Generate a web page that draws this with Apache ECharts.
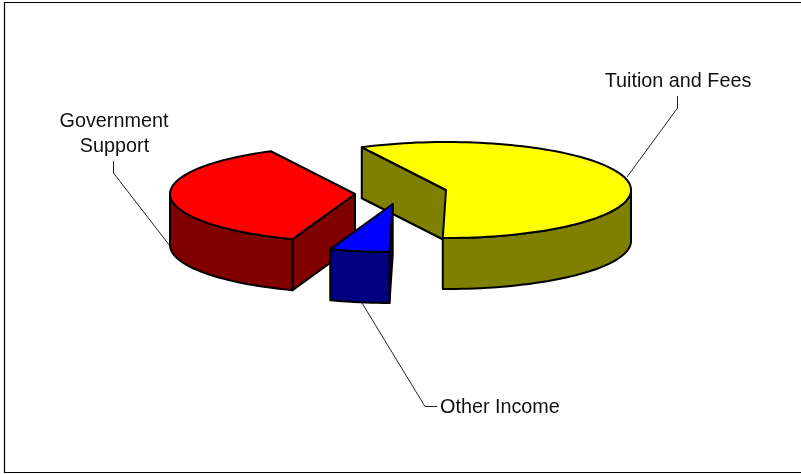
<!DOCTYPE html>
<html>
<head>
<meta charset="utf-8">
<script src="https://cdn.jsdelivr.net/npm/echarts@6/dist/echarts.min.js"></script>
<style>html,body{margin:0;padding:0;background:#fff}#c{width:801px;height:474px}</style>
</head>
<body>
<div id="c"></div>
<script>
const categories = ['Tuition and Fees', 'Government Support', 'Other Income'];
const values = [57.8, 37.0, 5.2];
const topColors = ['#FFFF00', '#FF0000', '#0000FF'];
const wallColors = ['#808000', '#800000', '#000080'];

// Layout of the exploded 3D pie
const centres = [[446, 190], [355, 194], [392.7, 204]];
const RX = 185, RY = 48, DEPTH = 51, FIRST_ANGLE = 91, EDGE = 2;

const total = values.reduce((a, b) => a + b, 0);
const spans = values.map(v => v / total * 360);
// angles increase clockwise on screen; the last slice starts at FIRST_ANGLE
const starts = [];
let acc = FIRST_ANGLE;
for (let i = values.length - 1; i >= 0; i--) { starts[i] = acc; acc += spans[i]; }

const rad = d => d * Math.PI / 180;
function rimPoint(c, t, dy) {
  return [c[0] + RX * Math.cos(rad(t)), c[1] + RY * Math.sin(rad(t)) + dy];
}
function arc(c, a, b, dy) {
  const n = Math.max(2, Math.ceil(Math.abs(b - a) / 2));
  const pts = [];
  for (let k = 0; k <= n; k++) pts.push(rimPoint(c, a + (b - a) * k / n, dy));
  return pts;
}
function poly(points, fill) {
  return { type: 'polygon', shape: { points: points },
    style: { fill: fill, stroke: '#000', lineWidth: EDGE, lineJoin: 'round' } };
}
function renderSlice(params, api) {
  const i = params.dataIndex;
  const span = api.value(0) / total * 360;
  const a = starts[i], b = a + span, c = centres[i];
  const children = [];
  const wall = t => {
    const p = rimPoint(c, t, 0);
    return poly([c, p, [p[0], p[1] + DEPTH], [c[0], c[1] + DEPTH]], wallColors[i]);
  };
  if (Math.sin(rad(a - 90)) > 0) children.push(wall(a));
  if (Math.sin(rad(b + 90)) > 0) children.push(wall(b));
  // outer rim: the front half of the ellipse (0..180, 360..540)
  [[0, 180], [360, 540]].forEach(r => {
    const lo = Math.max(a, r[0]), hi = Math.min(b, r[1]);
    if (hi > lo) {
      const top = arc(c, lo, hi, 0), bottom = arc(c, hi, lo, DEPTH);
      children.push(poly(top.concat(bottom), wallColors[i]));
    }
  });
  children.push(poly([c].concat(arc(c, a, b, 0)), topColors[i]));
  return { type: 'group', children: children };
}

const labelFont = { fontFamily: '"Liberation Sans", Arial, sans-serif', fontSize: 19.8, fill: '#111' };
function label(text, x, y, align) {
  return { type: 'text', x: x, y: y, silent: true,
    style: Object.assign({ text: text, textAlign: align, textVerticalAlign: 'middle' }, labelFont) };
}
function leader(points) {
  return { type: 'polyline', silent: true, shape: { points: points },
    style: { fill: 'none', stroke: '#222', lineWidth: 1 } };
}
const chart = echarts.init(document.getElementById('c'), null, { renderer: 'canvas' });
chart.setOption({
  backgroundColor: '#fff',
  animation: false,
  graphic: [
    { type: 'polyline', silent: true, shape: { points: [[810, 2.5], [4.5, 2.5], [4.5, 472.5], [810, 472.5]] },
      style: { fill: 'none', stroke: '#000', lineWidth: 1.2 } },
    leader([[677.5, 96], [677.5, 108], [627, 177]]),
    leader([[113.5, 161], [113.5, 173], [170, 246]]),
    leader([[362, 303], [425, 406.5], [437, 406.5]]),
    label(categories[0], 678, 82, 'center'),
    label('Government', 114, 121.5, 'center'),
    label('Support', 114.5, 146.5, 'center'),
    label(categories[2], 440, 407.5, 'left')
  ],
  series: [{
    type: 'custom',
    coordinateSystem: 'none',
    silent: true,
    data: values.map(v => [v]),
    renderItem: renderSlice
  }]
});
</script>
</body>
</html>
